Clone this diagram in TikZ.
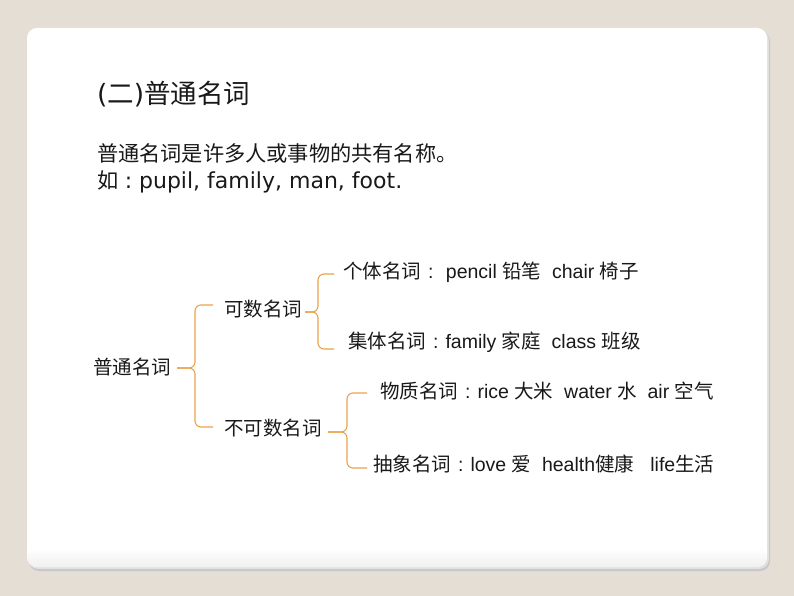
\documentclass[tikz,border=0pt]{standalone}
\usepackage{fontspec}
\setmainfont{Liberation Sans}
\newfontfamily\cjk{Noto Sans CJK SC}
\newfontfamily\dvs{DejaVu Sans}
\newcommand\zh[1]{{\cjk #1}}
\newcommand\zcol{\makebox[1em][c]{:}}
\definecolor{bgc}{HTML}{E4DED4}
\definecolor{bracec}{HTML}{EBA24A}
\begin{document}
\begin{tikzpicture}[x=1pt,y=-1pt,
  txt/.style={anchor=base west, inner sep=0pt, outer sep=0pt, text=black!90},
  tree/.style={txt, font=\fontsize{19.5}{23}\selectfont},
  bracestyle/.style={draw=bracec, line width=1.1pt, rounded corners=6pt}]
\fill[bgc] (0,0) rectangle (794,596);
\useasboundingbox (0,0) rectangle (794,596);
% card shadow and card
\fill[black!22, rounded corners=10pt] (29,31) rectangle (770,571);
\fill[black!12, rounded corners=10pt] (28,30) rectangle (769,569);
\fill[white, rounded corners=10pt] (27,28) rectangle (767,567);
\shade[top color=white, bottom color=black!6, rounded corners=10pt] (27,548) rectangle (767,567);
% title and body
\node[txt, font=\fontsize{26.5}{31}\selectfont] (title) at (97,104) {{\dvs (}\zh{二}{\dvs )}\zh{普通名词}};
\node[txt, font=\fontsize{21.2}{25}\selectfont] (line1) at (97,162) {\zh{普通名词是许多人或事物的共有名称。}};
\node[txt, font=\fontsize{21.2}{25}\selectfont] (line2) at (97,189) {\zh{如}{\dvs\fontsize{22}{26}\selectfont\makebox[0.95em][c]{:}pupil, family, man, foot.}};
% tree
\node[tree] (n0) at (93,374) {\zh{普通名词}};
\node[tree] (c1) at (224,316) {\zh{可数名词}};
\node[tree] (c2) at (224,435) {\zh{不可数名词}};
\node[tree] (g1) at (343,278) {\zh{个体名词}\zcol\ pencil \zh{铅笔}\ \ chair \zh{椅子}};
\node[tree] (g2) at (348,348) {\zh{集体名词}\zcol family \zh{家庭}\ \ class \zh{班级}};
\node[tree] (g3) at (380,398) {\zh{物质名词}\zcol rice \zh{大米}\ \ water \zh{水}\ \ air \zh{空气}};
\node[tree] (g4) at (373,471) {\zh{抽象名词}\zcol love \zh{爱}\ \ health\zh{健康}\ \ \ life\zh{生活}};
% brace points
\coordinate (b1tip) at (177,368); \coordinate (b1v) at (195,368);
\coordinate (b1top) at (213,305); \coordinate (b1bot) at (213,427);
\coordinate (b2tip) at (305,312); \coordinate (b2v) at (318,312);
\coordinate (b2top) at (334,274); \coordinate (b2bot) at (334,349);
\coordinate (b3tip) at (328,432); \coordinate (b3v) at (347,432);
\coordinate (b3top) at (367,393); \coordinate (b3bot) at (367,468);
\draw[bracestyle] (b1top) -| (b1v) -- (b1tip);
\draw[bracestyle] (b1tip) -- (b1v) |- (b1bot);
\draw[bracestyle] (b2top) -| (b2v) -- (b2tip);
\draw[bracestyle] (b2tip) -- (b2v) |- (b2bot);
\draw[bracestyle] (b3top) -| (b3v) -- (b3tip);
\draw[bracestyle] (b3tip) -- (b3v) |- (b3bot);
\end{tikzpicture}
\end{document}
